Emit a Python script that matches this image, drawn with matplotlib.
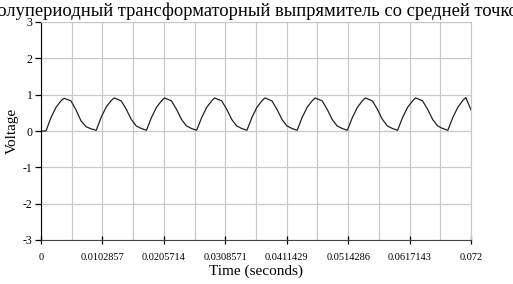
import numpy as np
import matplotlib
matplotlib.use("Agg")
import matplotlib.pyplot as plt
from matplotlib.ticker import FixedLocator

# data
time_s = [
    0.0, 0.00084, 0.00167, 0.00251, 0.00335, 0.00385, 0.00502, 0.00586, 0.00670, 0.00753, 0.00837,
    0.00925, 0.01008, 0.01092, 0.01176, 0.01226, 0.01343, 0.01427, 0.01511, 0.01594, 0.01678,
    0.01766, 0.01849, 0.01933, 0.02017, 0.02067, 0.02184, 0.02268, 0.02352, 0.02435, 0.02519,
    0.02607, 0.02690, 0.02774, 0.02858, 0.02908, 0.03025, 0.03109, 0.03193, 0.03276, 0.03360,
    0.03448, 0.03531, 0.03615, 0.03699, 0.03749, 0.03866, 0.03950, 0.04034, 0.04117, 0.04201,
    0.04289, 0.04372, 0.04456, 0.04540, 0.04590, 0.04707, 0.04791, 0.04875, 0.04958, 0.05042,
    0.05130, 0.05213, 0.05297, 0.05381, 0.05431, 0.05548, 0.05632, 0.05716, 0.05799, 0.05883,
    0.05971, 0.06054, 0.06138, 0.06222, 0.06272, 0.06389, 0.06473, 0.06557, 0.06640, 0.06724,
    0.06812, 0.06895, 0.06979, 0.07063, 0.07113, 0.07200,
]
voltage = [
    0.0, 0.0, 0.37, 0.65, 0.83, 0.90, 0.83, 0.58, 0.28, 0.12, 0.06,
    0.02, 0.38, 0.66, 0.84, 0.91, 0.83, 0.60, 0.32, 0.14, 0.07,
    0.02, 0.37, 0.65, 0.83, 0.91, 0.83, 0.60, 0.32, 0.14, 0.07,
    0.02, 0.37, 0.65, 0.83, 0.91, 0.83, 0.60, 0.32, 0.14, 0.07,
    0.02, 0.37, 0.65, 0.83, 0.91, 0.83, 0.60, 0.32, 0.14, 0.07,
    0.02, 0.37, 0.65, 0.83, 0.91, 0.83, 0.60, 0.32, 0.14, 0.07,
    0.02, 0.37, 0.65, 0.83, 0.91, 0.83, 0.60, 0.32, 0.14, 0.07,
    0.02, 0.37, 0.65, 0.83, 0.91, 0.83, 0.60, 0.32, 0.14, 0.07,
    0.02, 0.37, 0.65, 0.84, 0.92, 0.58,
]
x_ticks = [0, 0.0102857, 0.0205714, 0.0308571, 0.0411429, 0.0514286, 0.0617143, 0.072]
x_tick_labels = ["0", "0.0102857", "0.0205714", "0.0308571", "0.0411429",
                 "0.0514286", "0.0617143", "0.072"]
y_ticks = [-3, -2, -1, 0, 1, 2, 3]

title = "Двухполупериодный трансформаторный выпрямитель со средней точкой"

plt.rcParams['font.family'] = ['Liberation Serif', 'DejaVu Serif']

fig = plt.figure(figsize=(5.13, 2.84), dpi=100)
ax = fig.add_axes([41 / 513, 44 / 284, 430 / 513, 218 / 284])

ax.plot(time_s, voltage, color='#222222', lw=0.9)

ax.set_xlim(0, 0.072)
ax.set_ylim(-3, 3)
ax.xaxis.set_major_locator(FixedLocator(x_ticks))
ax.set_xticklabels(x_tick_labels, fontsize=7.5)
minor = [(a + b) / 2 for a, b in zip(x_ticks[:-1], x_ticks[1:])]
ax.xaxis.set_minor_locator(FixedLocator(minor))
ax.set_yticks(y_ticks)
ax.set_yticklabels([str(v) for v in y_ticks], fontsize=8.5)

ax.grid(True, which='both', color='#c8c8c8', lw=0.9)
ax.set_axisbelow(True)
ax.tick_params(axis='x', which='major', direction='inout', length=6, width=0.9, pad=6)
ax.tick_params(axis='x', which='minor', length=0)
ax.tick_params(axis='y', direction='out', length=4, width=0.9, pad=2)

for side in ['top', 'right']:
    ax.spines[side].set_color('#c8c8c8')
ax.spines['left'].set_color('black')
ax.spines['bottom'].set_color('#444444')

ax.set_xlabel("Time (seconds)", fontsize=11, labelpad=2)
ax.set_ylabel("Voltage", fontsize=11, labelpad=3)
# the title is wider than the picture and cut on both sides, as in the source
fig.text(0.464, 0.962, title, ha='center', va='center', fontsize=13.3)

fig.savefig("out.png", dpi=100)
